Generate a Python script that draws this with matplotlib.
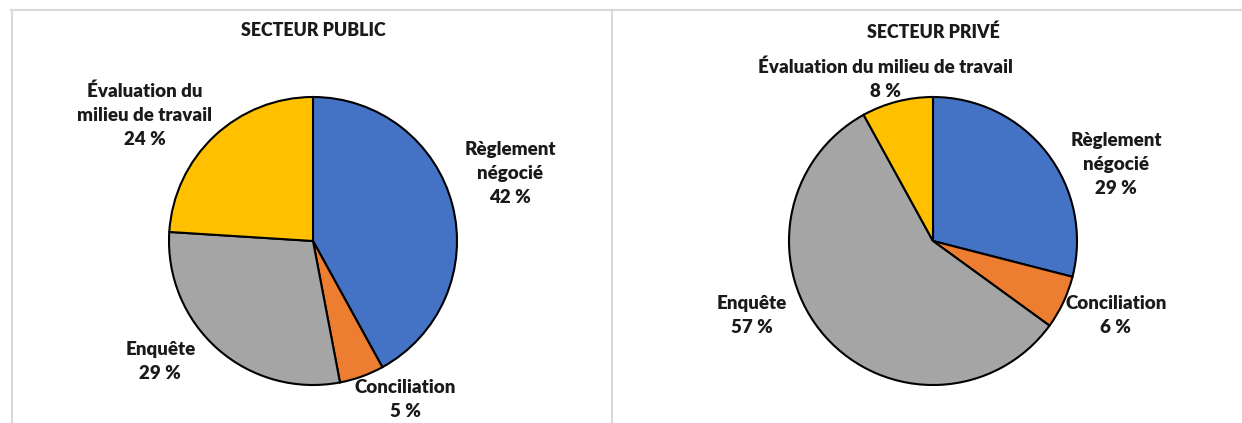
import matplotlib
matplotlib.use("Agg")
import matplotlib.pyplot as plt
from matplotlib.lines import Line2D

# Data
categories = ["Règlement\nnégocié", "Conciliation", "Enquête", "Évaluation du\nmilieu de travail"]
categories_prive = ["Règlement\nnégocié", "Conciliation", "Enquête", "Évaluation du milieu de travail"]
public_values = [42, 5, 29, 24]
prive_values = [29, 6, 57, 8]
titles = ["SECTEUR PUBLIC", "SECTEUR PRIVÉ"]

colors = ["#4472C4", "#ED7D31", "#A5A5A5", "#FFC000"]

# label placement (pie radius units, relative to centre)
public_label_pos = [(1.37, 0.47), (0.64, -1.10), (-1.06, -0.84), (-1.17, 0.875)]
prive_label_pos = [(1.27, 0.53), (1.27, -0.52), (-1.26, -0.52), (-0.33, 1.12)]

plt.rcParams['font.family'] = ['Lato', 'DejaVu Sans']

W, H = 1242, 423
fig = plt.figure(figsize=(W / 100, H / 100), dpi=100)

R = 144.0  # pie radius in px


def px_axes(x0, x1, y0, y1, cx, cy):
    ax = fig.add_axes([x0 / W, 1 - y1 / H, (x1 - x0) / W, (y1 - y0) / H])
    ax.set_xlim((x0 - cx) / R, (x1 - cx) / R)
    ax.set_ylim((cy - y1) / R, (cy - y0) / R)
    ax.axis("off")
    return ax


panels = [
    (px_axes(11, 612, 10, 423, 313, 241), public_values, categories, public_label_pos, titles[0], 1.46),
    (px_axes(612, 1242, 10, 423, 933, 241), prive_values, categories_prive, prive_label_pos, titles[1], 1.45),
]

for ax, vals, labs, pos, title, ty in panels:
    ax.pie(vals, colors=colors, startangle=90, counterclock=False, radius=1,
           center=(0, 0), frame=True,
           wedgeprops=dict(edgecolor="black", linewidth=1.5))
    ax.set_aspect("auto")
    ax.axis("off")
    for lab, v, (lx, ly) in zip(labs, vals, pos):
        ax.text(lx, ly, f"{lab}\n{v} %", ha="center", va="center",
                fontsize=13.5, fontweight="heavy", color="#1a1a1a", linespacing=1.5)
    ax.text(0, ty, title, ha="center", va="center", fontsize=12.8,
            fontweight="heavy", color="#1a1a1a")

# panel frames
grey = "#d9d9d9"
fig.add_artist(Line2D([11 / W, 1.0], [1 - 10.5 / H] * 2, color=grey, lw=1.5))
fig.add_artist(Line2D([11.5 / W] * 2, [0, 1 - 10.5 / H], color=grey, lw=1.5))
fig.add_artist(Line2D([612 / W] * 2, [0, 1 - 10.5 / H], color=grey, lw=1.5))

fig.savefig("out.png", dpi=100, facecolor="white")
